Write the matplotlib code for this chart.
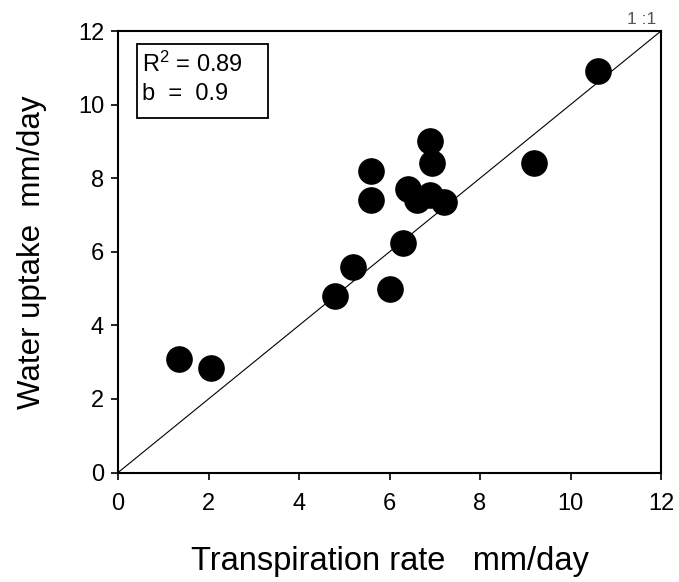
import matplotlib
matplotlib.use("Agg")
import matplotlib.pyplot as plt
from matplotlib.patches import Rectangle

plt.rcParams['font.family'] = ['Liberation Sans', 'DejaVu Sans']

transpiration = [1.35, 2.05, 4.8, 5.2, 6.0, 6.3, 5.6, 5.6, 6.9, 6.95, 6.4, 6.6, 6.9, 7.2, 9.2, 10.6]
uptake        = [3.1, 2.85, 4.8, 5.6, 5.0, 6.25, 8.2, 7.4, 9.0, 8.4, 7.7, 7.4, 7.55, 7.35, 8.4, 10.9]
ticks = [0, 2, 4, 6, 8, 10, 12]
one_to_one = [0, 12]

fig = plt.figure(figsize=(6.79, 5.82), dpi=100)
ax = fig.add_axes([0.1738, 0.188, 0.7997, 0.7587])

ax.plot(one_to_one, one_to_one, color='black', lw=0.8)
ax.scatter(transpiration, uptake, s=330, color='black', zorder=3, clip_on=False)

ax.set_xlim(0, 12)
ax.set_ylim(0, 12)
ax.set_xticks(ticks)
ax.set_yticks(ticks)
ax.tick_params(direction='out', length=5, width=1.2, labelsize=17, colors='black', pad=5)
ax.tick_params(axis='x', pad=10)
for s in ax.spines.values():
    s.set_linewidth(1.5)

ax.set_xlabel('Transpiration rate   mm/day', fontsize=23.5, labelpad=22)
ax.set_ylabel('Water uptake  mm/day', fontsize=22.5, labelpad=22)

ax.add_patch(Rectangle((0.035, 0.803), 0.241, 0.1675, transform=ax.transAxes,
                       fc='white', ec='black', lw=1.3, zorder=4))
ax.text(0.045, 0.925, '$\\mathregular{R^2}$ = 0.89', transform=ax.transAxes,
        fontsize=17, va='center', ha='left', zorder=5)
ax.text(0.045, 0.858, 'b  =  0.9', transform=ax.transAxes,
        fontsize=17, va='center', ha='left', zorder=5)
ax.text(0.965, 1.01, '1 :1', transform=ax.transAxes, fontsize=12.5, color='#555555',
        ha='center', va='bottom')

fig.savefig('out.png', dpi=100)
